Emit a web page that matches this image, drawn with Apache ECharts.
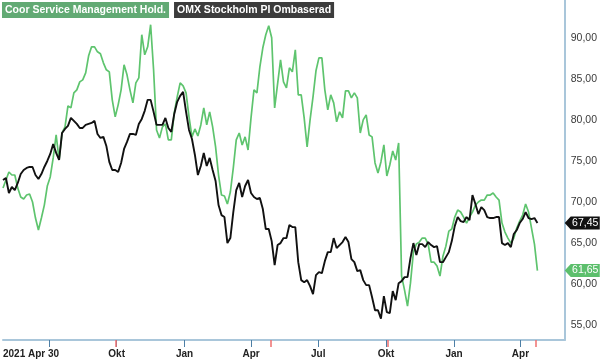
<!DOCTYPE html>
<html>
<head>
<meta charset="utf-8">
<script src="https://cdn.jsdelivr.net/npm/echarts@6/dist/echarts.min.js"></script>
<style>html,body{margin:0;padding:0;background:#fff}#c{width:600px;height:360px}</style>
</head>
<body>
<div id="c"></div>
<script>
// ---- data ----
const startDate = '2021-04-30';
const axisEndDate = '2023-05-31';
const stepDays = 4; // one sample every 4 calendar days
const coorName = 'Coor Service Management Hold.';
const omxName = 'OMX Stockholm PI Ombaserad';
const coorValues = [
 71.70, 72.68, 73.66, 73.29, 73.29, 71.70, 70.61, 70.37, 70.85, 70.97,
 70.00, 68.05, 66.59, 68.05, 69.63, 71.95, 73.05, 75.37, 78.17, 75.12,
 78.41, 79.15, 81.71, 81.46, 83.29, 83.66, 84.63, 84.88, 85.73, 87.80,
 88.90, 88.90, 88.29, 88.05, 86.95, 86.10, 85.85, 82.44, 80.37, 81.83,
 83.66, 86.71, 85.49, 83.66, 82.07, 84.51, 85.12, 90.37, 87.93, 88.90,
 91.59, 86.10, 78.78, 77.80, 79.15, 79.51, 77.56, 77.56, 80.85, 82.80,
 84.51, 84.15, 83.29, 80.37, 77.93, 78.90, 78.05, 79.39, 81.46, 79.39,
 80.98, 79.15, 76.71, 73.29, 70.85, 70.73, 69.76, 71.22, 74.15, 77.56,
 78.41, 76.95, 77.93, 76.34, 80.24, 83.66, 83.29, 86.46, 88.78, 90.37,
 91.46, 90.00, 81.46, 84.39, 87.32, 84.63, 83.90, 86.34, 85.85, 88.54,
 83.05, 83.05, 80.24, 76.71, 80.00, 82.80, 85.98, 87.56, 87.56, 83.66,
 81.22, 83.05, 82.07, 79.76, 80.98, 80.24, 83.54, 83.54, 82.68, 83.29,
 82.68, 78.41, 80.00, 80.61, 78.17, 77.93, 74.76, 73.54, 74.88, 76.95,
 73.17, 74.51, 76.22, 75.12, 77.20, 60.98, 59.27, 57.32, 60.12, 63.90,
 64.88, 65.12, 65.61, 65.61, 64.88, 62.68, 62.68, 62.20, 60.98, 63.41,
 64.63, 66.46, 66.71, 68.17, 69.02, 68.78, 68.17, 67.44, 68.17, 68.78,
 69.63, 70.00, 70.24, 70.24, 70.85, 70.85, 71.10, 70.61, 70.24, 67.44,
 66.34, 65.61, 65.00, 65.61, 66.83, 67.68, 68.41, 69.76, 68.78, 66.83,
 64.88, 61.65
];
const omxValues = [
 72.68, 72.93, 71.10, 71.83, 71.46, 72.32, 73.41, 73.90, 74.15, 74.27,
 74.27, 73.29, 72.80, 73.41, 74.27, 75.00, 75.85, 77.07, 75.98, 75.12,
 78.41, 78.90, 79.27, 80.24, 79.88, 79.51, 79.02, 79.02, 79.39, 79.51,
 79.63, 79.88, 78.29, 77.80, 77.93, 76.83, 74.88, 73.90, 73.90, 73.66,
 74.76, 76.46, 77.32, 78.29, 78.29, 78.17, 79.51, 80.12, 81.10, 82.44,
 82.44, 80.98, 79.39, 79.39, 79.39, 80.24, 79.02, 78.54, 80.73, 82.20,
 82.93, 83.41, 80.98, 78.78, 77.68, 75.73, 73.29, 74.39, 75.98, 74.39,
 75.37, 73.90, 72.56, 69.63, 68.41, 68.17, 65.00, 65.61, 68.78, 71.46,
 72.32, 70.61, 71.95, 72.68, 71.10, 70.61, 70.37, 70.49, 69.15, 66.71,
 66.71, 65.24, 62.32, 64.76, 65.00, 65.61, 65.61, 67.20, 66.95, 66.95,
 62.68, 60.49, 60.24, 60.49, 59.76, 58.78, 61.10, 61.46, 61.34, 62.80,
 63.90, 63.90, 65.61, 64.39, 64.76, 65.12, 65.73, 65.12, 63.05, 62.68,
 61.59, 61.71, 60.49, 59.88, 59.88, 58.41, 56.83, 56.83, 55.80, 58.54,
 56.59, 56.46, 59.15, 58.05, 60.12, 60.37, 60.85, 60.85, 63.17, 65.00,
 63.54, 64.88, 64.88, 64.51, 65.12, 64.76, 64.51, 64.63, 62.68, 62.68,
 63.29, 63.90, 65.24, 67.07, 68.17, 67.68, 67.56, 68.17, 67.80, 70.85,
 69.76, 68.54, 69.39, 69.02, 68.17, 68.05, 68.05, 68.17, 68.17, 65.00,
 64.76, 65.00, 64.51, 66.10, 66.59, 67.44, 67.93, 68.78, 68.05, 67.93,
 68.05, 67.45
];
const eventDates = ['2021-09-30', '2022-04-28', '2022-10-03', '2023-04-22'];
const monthNames = ['Jan','Feb','Mar','Apr','Maj','Jun','Jul','Aug','Sep','Okt','Nov','Dec'];
const yMin = 53.2, yMax = 94.6;

// ---- helpers ----
function addDays(s, n) {
  const d = new Date(s + 'T00:00:00Z');
  d.setUTCDate(d.getUTCDate() + n);
  return d.toISOString().slice(0, 10);
}
const axisDays = [];
for (let i = 0; ; i++) { const d = addDays(startDate, i); if (d > axisEndDate) break; axisDays.push(d); }
const sampleDates = coorValues.map((_, i) => addDays(startDate, i * stepDays));
const isQuarterStart = v => v.slice(8) === '01' && ['01','04','07','10'].includes(v.slice(5, 7));
const fmtVal = v => v.toFixed(2).replace('.', ',');
const FONT = '"Liberation Sans", Arial, sans-serif';
const GREEN = '#5ec46e', BLACK = '#111111';
const tagPath = 'path://M0,6.5L6,0L35,0L35,13L6,13Z';

function tag(values, color) {
  const last = values[values.length - 1];
  return {
    symbol: tagPath, symbolSize: [35, 13], symbolOffset: [17.5, 0], symbolKeepAspect: false,
    silent: true, animation: false,
    itemStyle: { color: color },
    label: { show: true, position: 'inside', offset: [3, 0], color: '#fff', fontSize: 10.5, fontFamily: FONT,
             formatter: () => fmtVal(last) },
    data: [{ coord: [axisEndDate, last] }]
  };
}

const chart = echarts.init(document.getElementById('c'), null, { renderer: 'canvas' });
chart.setOption({
  animation: false,
  backgroundColor: '#fff',
  grid: { left: 0, right: 34, top: 0, bottom: 20, containLabel: false },
  legend: {
    left: -3, top: 2, padding: 0, itemGap: 0, icon: 'none', itemWidth: 0, itemHeight: 0,
    selectedMode: false,
    textStyle: { fontWeight: 'bold', fontSize: 10.5, fontFamily: FONT, color: '#fff', padding: [3, 3, 2, 3] },
    data: [
      { name: coorName, textStyle: { backgroundColor: '#62aa74' } },
      { name: omxName, textStyle: { backgroundColor: '#3c3c3c' } }
    ]
  },
  xAxis: [
    {
      type: 'category', data: axisDays, boundaryGap: false, position: 'bottom',
      axisLine: { show: true, lineStyle: { color: '#a9c6da', width: 2 } },
      axisTick: { show: true, interval: (i, v) => isQuarterStart(v), length: 7, lineStyle: { color: '#4d7fa6', width: 1 } },
      axisLabel: {
        interval: (i, v) => i === 0 || (isQuarterStart(v) && v >= '2021-09-01'),
        formatter: (v, i) => i === 0 ? (v.slice(0, 4) + ' ' + monthNames[+v.slice(5, 7) - 1] + ' ' + (+v.slice(8))) : monthNames[+v.slice(5, 7) - 1],
        fontWeight: 'bold', color: '#222', fontSize: 10, fontFamily: FONT, margin: 9, alignMinLabel: 'left'
      },
      splitLine: { show: false }
    },
    {
      type: 'category', data: axisDays, boundaryGap: false, position: 'bottom', offset: 0,
      axisLine: { show: false },
      axisTick: { show: true, interval: (i, v) => eventDates.includes(v), length: 7, lineStyle: { color: '#f07070', width: 1.5 } },
      axisLabel: { show: false },
      splitLine: { show: false }
    }
  ],
  yAxis: {
    type: 'value', position: 'right', min: yMin, max: yMax, splitNumber: 8,
    axisLine: { show: true, lineStyle: { color: '#a9c6da', width: 2 } },
    axisTick: { show: false },
    splitLine: { show: false },
    axisLabel: {
      formatter: v => Math.abs(v / 5 - Math.round(v / 5)) < 1e-6 ? fmtVal(v) : '',
      color: '#3a3a3a', fontSize: 10.5, fontFamily: FONT, margin: 6
    }
  },
  series: [
    {
      name: coorName, type: 'line', xAxisIndex: 0,
      data: sampleDates.map((d, i) => [d, coorValues[i]]),
      symbol: 'none', showSymbol: false, connectNulls: true,
      lineStyle: { color: GREEN, width: 1.7 }, itemStyle: { color: GREEN },
      markPoint: tag(coorValues, '#5cbf6c')
    },
    {
      name: omxName, type: 'line', xAxisIndex: 0,
      data: sampleDates.map((d, i) => [d, omxValues[i]]),
      symbol: 'none', showSymbol: false, connectNulls: true,
      lineStyle: { color: BLACK, width: 1.9 }, itemStyle: { color: BLACK },
      markPoint: tag(omxValues, '#111111')
    }
  ]
});
</script>
</body>
</html>
